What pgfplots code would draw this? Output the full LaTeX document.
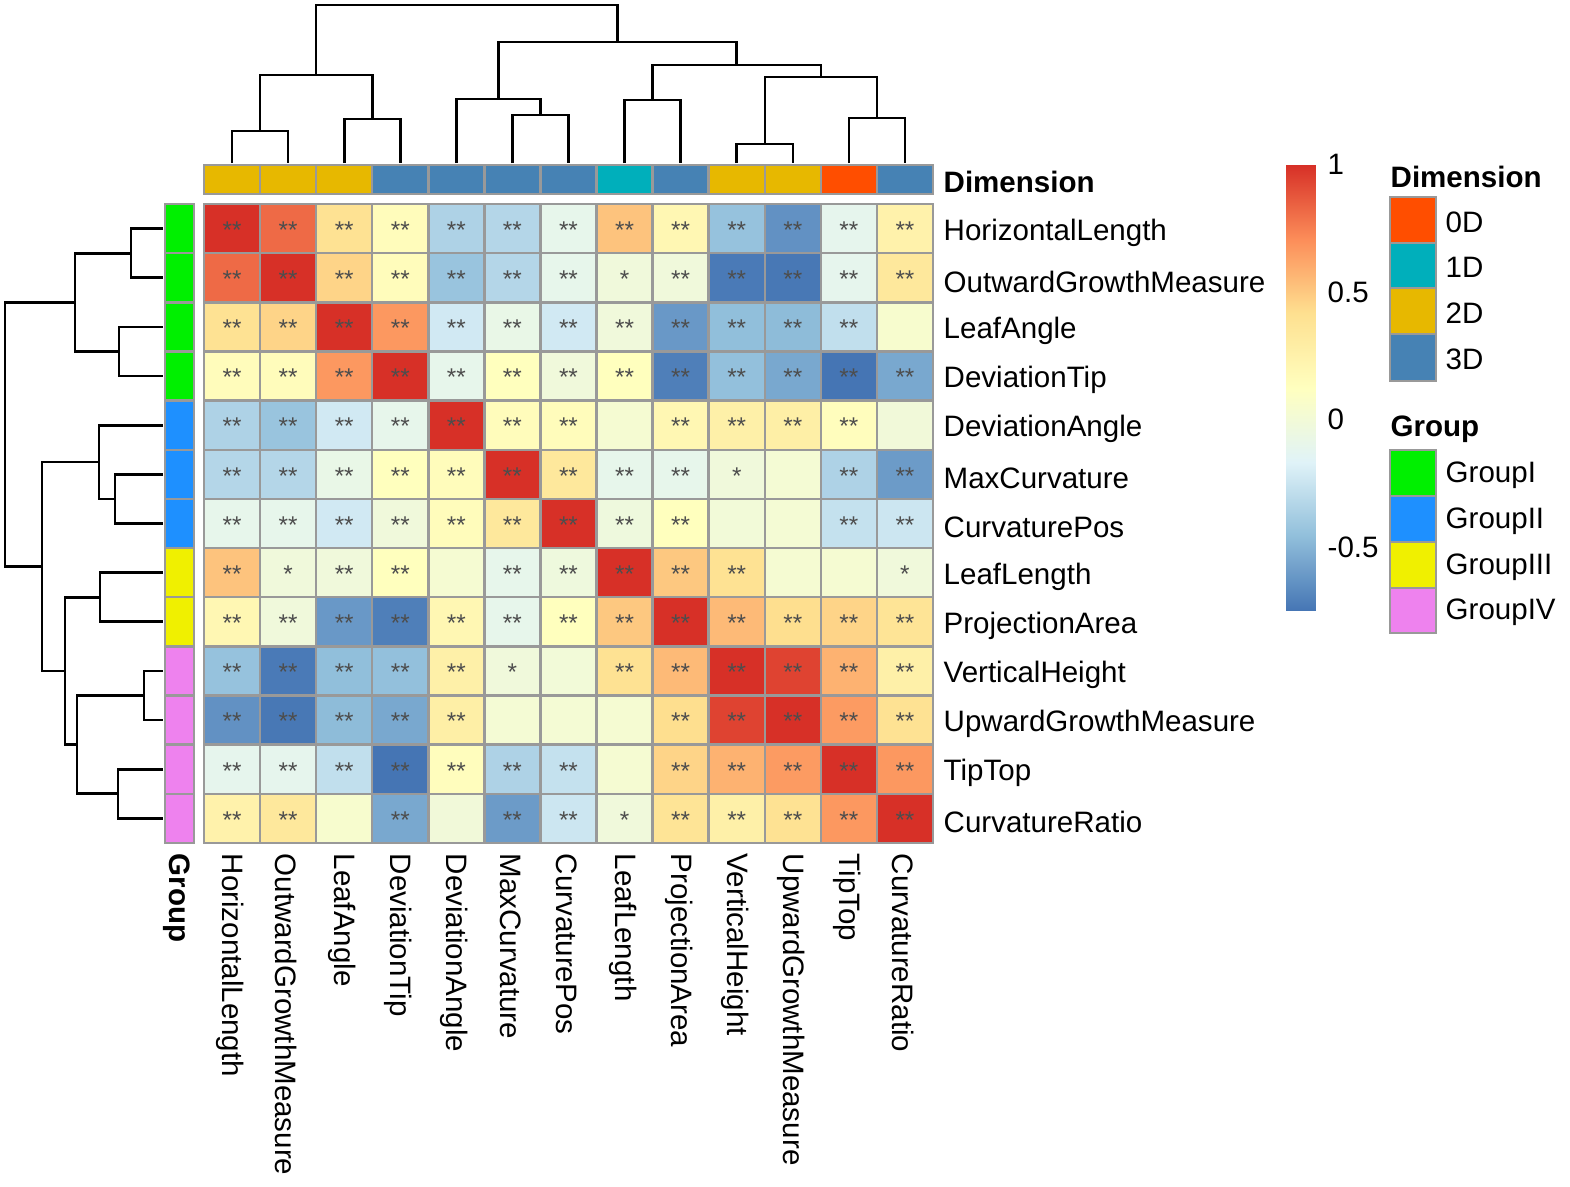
\documentclass[border=0pt]{standalone}
\usepackage{fontspec}
\setmainfont{Liberation Sans}
\usepackage{pgfplots}
\usepackage{pgfplotstable}
\pgfplotsset{compat=1.18}

\definecolor{gridc}{RGB}{153,153,153}
\definecolor{starc}{RGB}{77,77,77}
\definecolor{dzero}{RGB}{255,78,0}
\definecolor{done}{RGB}{0,175,187}
\definecolor{dtwo}{RGB}{231,184,0}
\definecolor{dthree}{RGB}{70,130,180}
\definecolor{gone}{RGB}{0,240,0}
\definecolor{gtwo}{RGB}{30,144,255}
\definecolor{gthree}{RGB}{240,240,0}
\definecolor{gfour}{RGB}{238,130,238}

\pgfplotsset{
  colormap={rdylbu}{rgb255=(69,117,180) rgb255=(145,191,219) rgb255=(224,243,248)
    rgb255=(255,255,191) rgb255=(254,224,144) rgb255=(252,141,89) rgb255=(215,48,39)},
  dendro/.style={black, line width=0.75pt, mark=none},
}

% correlation matrix, x = column, y = row, c = r, s = significance
\pgfplotstableread{
x y c s
1 1 1.00 **
2 1 0.82 **
3 1 0.40 **
4 1 0.15 **
5 1 -0.35 **
6 1 -0.33 **
7 1 -0.10 **
8 1 0.52 **
9 1 0.20 **
10 1 -0.44 **
11 1 -0.64 **
12 1 -0.11 **
13 1 0.25 **
1 2 0.82 **
2 2 1.00 **
3 2 0.46 **
4 2 0.15 **
5 2 -0.43 **
6 2 -0.33 **
7 2 -0.10 **
8 2 -0.02 *
9 2 -0.02 **
10 2 -0.73 **
11 2 -0.74 **
12 2 -0.11 **
13 2 0.34 **
1 3 0.40 **
2 3 0.46 **
3 3 1.00 **
4 3 0.67 **
5 3 -0.22 **
6 3 -0.08 **
7 3 -0.22 **
8 3 -0.02 **
9 3 -0.61 **
10 3 -0.46 **
11 3 -0.47 **
12 3 -0.28 **
13 3 0.05 {}
1 4 0.15 **
2 4 0.15 **
3 4 0.67 **
4 4 1.00 **
5 4 -0.10 **
6 4 0.13 **
7 4 -0.02 **
8 4 0.13 **
9 4 -0.71 **
10 4 -0.45 **
11 4 -0.55 **
12 4 -0.75 **
13 4 -0.55 **
1 5 -0.35 **
2 5 -0.43 **
3 5 -0.22 **
4 5 -0.10 **
5 5 1.00 **
6 5 0.15 **
7 5 0.15 **
8 5 0.03 {}
9 5 0.20 **
10 5 0.27 **
11 5 0.28 **
12 5 0.14 **
13 5 -0.01 {}
1 6 -0.33 **
2 6 -0.33 **
3 6 -0.08 **
4 6 0.13 **
5 6 0.15 **
6 6 1.00 **
7 6 0.34 **
8 6 -0.10 **
9 6 -0.10 **
10 6 -0.02 *
11 6 0.02 {}
12 6 -0.35 **
13 6 -0.60 **
1 7 -0.10 **
2 7 -0.10 **
3 7 -0.22 **
4 7 -0.02 **
5 7 0.15 **
6 7 0.34 **
7 7 1.00 **
8 7 -0.03 **
9 7 0.13 **
10 7 0.00 {}
11 7 0.02 {}
12 7 -0.27 **
13 7 -0.24 **
1 8 0.52 **
2 8 -0.02 *
3 8 -0.02 **
4 8 0.13 **
5 8 0.03 {}
6 8 -0.10 **
7 8 -0.03 **
8 8 1.00 **
9 8 0.50 **
10 8 0.40 **
11 8 0.03 {}
12 8 0.03 {}
13 8 -0.02 *
1 9 0.20 **
2 9 -0.02 **
3 9 -0.61 **
4 9 -0.71 **
5 9 0.20 **
6 9 -0.10 **
7 9 0.13 **
8 9 0.50 **
9 9 1.00 **
10 9 0.55 **
11 9 0.42 **
12 9 0.46 **
13 9 0.38 **
1 10 -0.44 **
2 10 -0.73 **
3 10 -0.46 **
4 10 -0.45 **
5 10 0.27 **
6 10 -0.02 *
7 10 0.00 {}
8 10 0.40 **
9 10 0.55 **
10 10 1.00 **
11 10 0.94 **
12 10 0.58 **
13 10 0.27 **
1 11 -0.64 **
2 11 -0.74 **
3 11 -0.47 **
4 11 -0.55 **
5 11 0.28 **
6 11 0.02 {}
7 11 0.02 {}
8 11 0.03 {}
9 11 0.42 **
10 11 0.94 **
11 11 1.00 **
12 11 0.66 **
13 11 0.40 **
1 12 -0.11 **
2 12 -0.11 **
3 12 -0.28 **
4 12 -0.75 **
5 12 0.14 **
6 12 -0.35 **
7 12 -0.27 **
8 12 0.03 {}
9 12 0.46 **
10 12 0.58 **
11 12 0.66 **
12 12 1.00 **
13 12 0.67 **
1 13 0.25 **
2 13 0.34 **
3 13 0.05 {}
4 13 -0.55 **
5 13 -0.01 {}
6 13 -0.60 **
7 13 -0.24 **
8 13 -0.02 *
9 13 0.38 **
10 13 0.27 **
11 13 0.40 **
12 13 0.67 **
13 13 1.00 **
}\corr

\newcommand\rect[5]{\addplot[fill=#5, draw=gridc, line width=0.7pt] coordinates {(#1,#2) (#3,#2) (#3,#4) (#1,#4)} -- cycle;}
\newcommand\lab{\fontsize{8.4}{10}\selectfont}

\begin{document}
\begin{tikzpicture}
% frame in pixel units of the reference, y downwards
\begin{axis}[
  at={(0,0)}, anchor=south west,
  scale only axis, width=15.7cm, height=11.86cm,
  xmin=0, xmax=1570, ymin=0, ymax=1186, y dir=reverse,
  hide axis, clip=false,
  colormap name=rdylbu, point meta min=-0.75, point meta max=1,
]
% column dendrogram
\addplot[dendro] coordinates {(232.0,163) (232.0,131) (288.1,131) (288.1,163)};
\addplot[dendro] coordinates {(344.2,163) (344.2,119) (400.3,119) (400.3,163)};
\addplot[dendro] coordinates {(260.05,131) (260.05,75) (372.25,75) (372.25,119)};
\addplot[dendro] coordinates {(512.5,163) (512.5,115) (568.6,115) (568.6,163)};
\addplot[dendro] coordinates {(456.4,163) (456.4,99) (540.55,99) (540.55,115)};
\addplot[dendro] coordinates {(624.7,163) (624.7,100) (680.7,100) (680.7,163)};
\addplot[dendro] coordinates {(736.8,163) (736.8,144) (792.9,144) (792.9,163)};
\addplot[dendro] coordinates {(849.0,163) (849.0,118) (905.1,118) (905.1,163)};
\addplot[dendro] coordinates {(764.85,144) (764.85,77) (877.05,77) (877.05,118)};
\addplot[dendro] coordinates {(652.7,100) (652.7,65) (820.95,65) (820.95,77)};
\addplot[dendro] coordinates {(498.5,99) (498.5,42) (736.8,42) (736.8,65)};
\addplot[dendro] coordinates {(316.15,75) (316.15,5) (617.65,5) (617.65,42)};
% row dendrogram
\addplot[dendro] coordinates {(163,228.6) (131,228.6) (131,277.7) (163,277.7)};
\addplot[dendro] coordinates {(163,326.9) (119,326.9) (119,376.0) (163,376.0)};
\addplot[dendro] coordinates {(131,253.2) (75,253.2) (75,351.5) (119,351.5)};
\addplot[dendro] coordinates {(163,474.3) (115,474.3) (115,523.5) (163,523.5)};
\addplot[dendro] coordinates {(163,425.2) (99,425.2) (99,498.9) (115,498.9)};
\addplot[dendro] coordinates {(163,572.6) (100,572.6) (100,621.8) (163,621.8)};
\addplot[dendro] coordinates {(163,670.9) (144,670.9) (144,720.1) (163,720.1)};
\addplot[dendro] coordinates {(163,769.2) (118,769.2) (118,818.4) (163,818.4)};
\addplot[dendro] coordinates {(144,695.5) (77,695.5) (77,793.8) (118,793.8)};
\addplot[dendro] coordinates {(100,597.2) (65,597.2) (65,744.6) (77,744.6)};
\addplot[dendro] coordinates {(99,462.0) (42,462.0) (42,670.9) (65,670.9)};
\addplot[dendro] coordinates {(75,302.3) (5,302.3) (5,566.5) (42,566.5)};

% Dimension annotation
\rect{204.0}{165}{260.1}{194}{dtwo}
\rect{260.1}{165}{316.2}{194}{dtwo}
\rect{316.2}{165}{372.2}{194}{dtwo}
\rect{372.2}{165}{428.3}{194}{dthree}
\rect{428.3}{165}{484.4}{194}{dthree}
\rect{484.4}{165}{540.5}{194}{dthree}
\rect{540.5}{165}{596.5}{194}{dthree}
\rect{596.5}{165}{652.6}{194}{done}
\rect{652.6}{165}{708.7}{194}{dthree}
\rect{708.7}{165}{764.8}{194}{dtwo}
\rect{764.8}{165}{820.8}{194}{dtwo}
\rect{820.8}{165}{876.9}{194}{dzero}
\rect{876.9}{165}{933.0}{194}{dthree}
% Group annotation
\rect{165}{204.0}{194}{253.2}{gone}
\rect{165}{253.2}{194}{302.3}{gone}
\rect{165}{302.3}{194}{351.5}{gone}
\rect{165}{351.5}{194}{400.6}{gone}
\rect{165}{400.6}{194}{449.8}{gtwo}
\rect{165}{449.8}{194}{498.9}{gtwo}
\rect{165}{498.9}{194}{548.1}{gtwo}
\rect{165}{548.1}{194}{597.2}{gthree}
\rect{165}{597.2}{194}{646.4}{gthree}
\rect{165}{646.4}{194}{695.5}{gfour}
\rect{165}{695.5}{194}{744.7}{gfour}
\rect{165}{744.7}{194}{793.8}{gfour}
\rect{165}{793.8}{194}{843.0}{gfour}

% legends
\rect{1390}{197}{1436}{243}{dzero}
\rect{1390}{243}{1436}{288}{done}
\rect{1390}{288}{1436}{334}{dtwo}
\rect{1390}{334}{1436}{381}{dthree}
\rect{1390}{450}{1436}{496}{gone}
\rect{1390}{496}{1436}{542}{gtwo}
\rect{1390}{542}{1436}{588}{gthree}
\rect{1390}{588}{1436}{633}{gfour}

% colour bar
\addplot[patch, patch type=rectangle, shader=interp, point meta=explicit] coordinates {
(1286,610.8) [-0.75] (1315,610.8) [-0.75] (1315,536.4) [-0.4583] (1286,536.4) [-0.4583]
(1286,536.4) [-0.4583] (1315,536.4) [-0.4583] (1315,462.0) [-0.1667] (1286,462.0) [-0.1667]
(1286,462.0) [-0.1667] (1315,462.0) [-0.1667] (1315,387.6) [0.125] (1286,387.6) [0.125]
(1286,387.6) [0.125] (1315,387.6) [0.125] (1315,313.2) [0.4167] (1286,313.2) [0.4167]
(1286,313.2) [0.4167] (1315,313.2) [0.4167] (1315,238.9) [0.7083] (1286,238.9) [0.7083]
(1286,238.9) [0.7083] (1315,238.9) [0.7083] (1315,164.5) [1] (1286,164.5) [1]
};

\begin{scope}[every node/.style={inner sep=0pt, font=\lab}]
\node[anchor=west] at (axis cs:1327,164.5) {1};
\node[anchor=west] at (axis cs:1327,292) {0.5};
\node[anchor=west] at (axis cs:1327,419.5) {0};
\node[anchor=west] at (axis cs:1327,547) {-0.5};
\node[anchor=west, font=\lab\bfseries] at (axis cs:1390,177) {Dimension};
\node[anchor=west] at (axis cs:1445,222) {0D};
\node[anchor=west] at (axis cs:1445,267) {1D};
\node[anchor=west] at (axis cs:1445,313) {2D};
\node[anchor=west] at (axis cs:1445,359) {3D};
\node[anchor=west, font=\lab\bfseries] at (axis cs:1390,429) {Group};
\node[anchor=west] at (axis cs:1445,475) {GroupI};
\node[anchor=west] at (axis cs:1445,521) {GroupII};
\node[anchor=west] at (axis cs:1445,567) {GroupIII};
\node[anchor=west] at (axis cs:1445,612) {GroupIV};

\node[anchor=west, font=\lab\bfseries] at (axis cs:943,182) {Dimension};
\node[anchor=west, rotate=-90, font=\lab\bfseries] at (axis cs:177,853) {Group};

\node[anchor=west] at (axis cs:943,232.6) {HorizontalLength};
\node[anchor=west] at (axis cs:943,281.7) {OutwardGrowthMeasure};
\node[anchor=west] at (axis cs:943,330.9) {LeafAngle};
\node[anchor=west] at (axis cs:943,380.0) {DeviationTip};
\node[anchor=west] at (axis cs:943,429.2) {DeviationAngle};
\node[anchor=west] at (axis cs:943,478.3) {MaxCurvature};
\node[anchor=west] at (axis cs:943,527.5) {CurvaturePos};
\node[anchor=west] at (axis cs:943,576.6) {LeafLength};
\node[anchor=west] at (axis cs:943,625.8) {ProjectionArea};
\node[anchor=west] at (axis cs:943,674.9) {VerticalHeight};
\node[anchor=west] at (axis cs:943,724.1) {UpwardGrowthMeasure};
\node[anchor=west] at (axis cs:943,773.2) {TipTop};
\node[anchor=west] at (axis cs:943,822.4) {CurvatureRatio};

\node[anchor=west, rotate=-90] at (axis cs:230.0,853) {HorizontalLength};
\node[anchor=west, rotate=-90] at (axis cs:286.1,853) {OutwardGrowthMeasure};
\node[anchor=west, rotate=-90] at (axis cs:342.2,853) {LeafAngle};
\node[anchor=west, rotate=-90] at (axis cs:398.3,853) {DeviationTip};
\node[anchor=west, rotate=-90] at (axis cs:454.4,853) {DeviationAngle};
\node[anchor=west, rotate=-90] at (axis cs:510.5,853) {MaxCurvature};
\node[anchor=west, rotate=-90] at (axis cs:566.6,853) {CurvaturePos};
\node[anchor=west, rotate=-90] at (axis cs:622.7,853) {LeafLength};
\node[anchor=west, rotate=-90] at (axis cs:678.7,853) {ProjectionArea};
\node[anchor=west, rotate=-90] at (axis cs:734.8,853) {VerticalHeight};
\node[anchor=west, rotate=-90] at (axis cs:790.9,853) {UpwardGrowthMeasure};
\node[anchor=west, rotate=-90] at (axis cs:847.0,853) {TipTop};
\node[anchor=west, rotate=-90] at (axis cs:903.1,853) {CurvatureRatio};
\end{scope}
\end{axis}

% heat map
\begin{axis}[
  at={(2.04cm,3.43cm)}, anchor=south west,
  scale only axis, width=7.29cm, height=6.39cm,
  xmin=0.5, xmax=13.5, ymin=0.5, ymax=13.5, y dir=reverse,
  enlargelimits=false, clip=false,
  colormap name=rdylbu, point meta min=-0.75, point meta max=1,
  xtick={0.5,1.5,...,13.5}, ytick={0.5,1.5,...,13.5},
  xticklabels={}, yticklabels={}, major tick length=0pt,
  grid=major, major grid style={draw=gridc, line width=0.7pt},
  axis line style={draw=gridc, line width=0.7pt},
  axis on top,
]
\addplot[matrix plot*, mesh/cols=13, point meta=explicit] table[x=x, y=y, meta=c] {\corr};
\addplot[only marks, mark=none,
  point meta=explicit symbolic, nodes near coords, nodes near coords align={center},
  every node near coord/.style={font=\fontsize{6.9}{8}\selectfont, text=starc, inner sep=0pt, anchor=center, yshift=-0.4pt}]
  table[x=x, y=y, meta=s] {\corr};
\end{axis}
\pgfresetboundingbox
\path[use as bounding box] (0,0) rectangle (15.7cm,11.86cm);
\end{tikzpicture}
\end{document}
